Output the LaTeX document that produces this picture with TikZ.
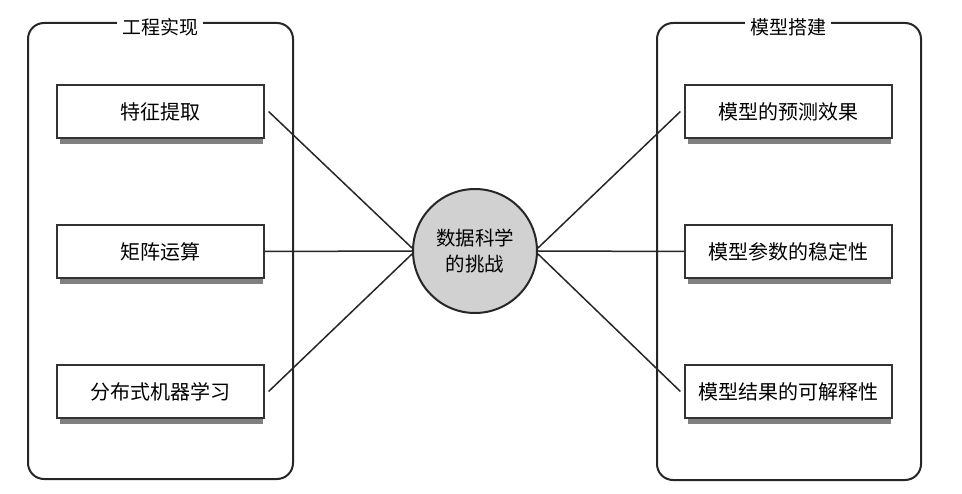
\documentclass[tikz,border=0pt]{standalone}
\usepackage{fontspec}
\setmainfont{Noto Sans CJK SC}
\usetikzlibrary{calc,backgrounds}
\tikzset{
  group/.style={draw=black!85, line width=2pt, rounded corners=16pt},
  grouptitle/.style={fill=white, inner sep=5pt, font=\fontsize{19}{22}\selectfont},
  task/.style={draw=black!80, line width=1.2pt, fill=white, minimum width=207pt, minimum height=53pt,
    font=\fontsize{20}{24}\selectfont},
  taskshadow/.style={fill=black!50},
  link/.style={draw=black!85, line width=1.5pt}
}
\begin{document}
\begin{tikzpicture}[x=1pt, y=-1pt]
      \useasboundingbox (0,0) rectangle (962,494);
      \draw[group] (28,23) rectangle (293,479);
      \draw[group] (657,23) rectangle (921,480);
      \node[grouptitle] (engtitle) at (160,27) {工程实现};
      \node[grouptitle] (modtitle) at (788,27) {模型搭建};
      \node[task] (feature) at (160.5,111.5) {特征提取};
      \node[task] (matrix) at (160.5,251.5) {矩阵运算};
      \node[task] (distml) at (160.5,391.5) {分布式机器学习};
      \node[task] (predict) at (788.5,111.5) {模型的预测效果};
      \node[task] (stable) at (788.5,251.5) {模型参数的稳定性};
      \node[task] (explain) at (788.5,391.5) {模型结果的可解释性};
      % shadows under the boxes
      \begin{scope}[on background layer]
        \foreach \n in {feature,matrix,distml,predict,stable,explain}
          \fill[taskshadow] ($(\n.south west)+(4,0)$) rectangle ($(\n.south east)+(-2,5)$);
      \end{scope}
      \node[circle, draw=black!85, line width=2pt, fill=black!18, minimum size=124pt, align=center,
        font=\fontsize{19.5}{26}\selectfont] (challenge) at (475,251) {数据科学\\的挑战};
      \draw[link] ($(feature.east)+(4,0)$) -- ($(challenge.west)+(0,-3)$);
      \draw[link] (matrix.east) -- (challenge.west);
      \draw[link] ($(distml.east)+(4,0)$) -- ($(challenge.west)+(0,3)$);
      \draw[link] ($(challenge.east)+(0,-3)$) -- ($(predict.west)+(-4,0)$);
      \draw[link] (challenge.east) -- (stable.west);
      \draw[link] ($(challenge.east)+(0,3)$) -- ($(explain.west)+(-4,0)$);
    \end{tikzpicture}
\end{document}
